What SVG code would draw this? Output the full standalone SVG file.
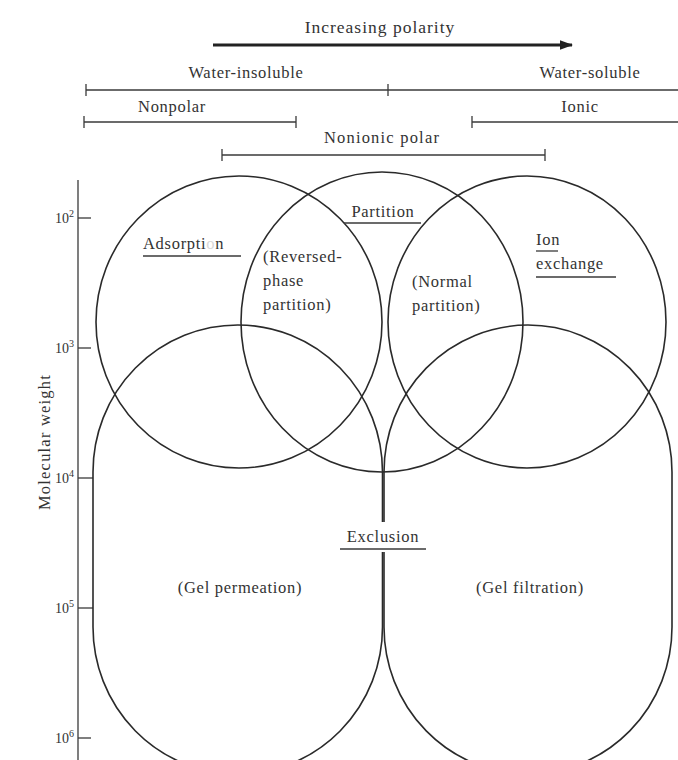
<svg xmlns="http://www.w3.org/2000/svg" width="678" height="760" viewBox="0 0 678 760">
<defs>
<marker id="ah" viewBox="0 0 10 10" refX="9" refY="5" markerWidth="4.5" markerHeight="4.5" markerUnits="strokeWidth" orient="auto">
<path d="M0,1.5 L10,5 L0,8.5 Z" fill="#222"/>
</marker>
<style>
text{font-family:"Liberation Serif","Times New Roman",serif;fill:#333;font-size:16.5px;letter-spacing:0.7px}
.ln{stroke:#3a3a3a;stroke-width:1.3;fill:none}
.sh{stroke:#2a2a2a;stroke-width:1.6;fill:none}
.ul{stroke:#3a3a3a;stroke-width:1.3}
.tk{font-size:14px;letter-spacing:0}
.sup{font-size:10px}
</style>
</defs>
<rect width="678" height="760" fill="#fff"/>

<g id="scale">
<text x="380" y="33" text-anchor="middle" style="font-size:17.5px;letter-spacing:1px">Increasing polarity</text>
<line x1="213" y1="45" x2="572" y2="45" stroke="#222" stroke-width="3" marker-end="url(#ah)"/>
<text x="246" y="78" text-anchor="middle">Water-insoluble</text>
<text x="590" y="78" text-anchor="middle">Water-soluble</text>
<line class="ln" x1="86" y1="90" x2="678" y2="90"/>
<line class="ln" x1="86" y1="84" x2="86" y2="96"/>
<line class="ln" x1="388" y1="84" x2="388" y2="96"/>
<text x="172" y="112" text-anchor="middle">Nonpolar</text>
<text x="580" y="112" text-anchor="middle">Ionic</text>
<line class="ln" x1="84" y1="122" x2="296" y2="122"/>
<line class="ln" x1="84" y1="116" x2="84" y2="128"/>
<line class="ln" x1="296" y1="116" x2="296" y2="128"/>
<line class="ln" x1="472" y1="122" x2="678" y2="122"/>
<line class="ln" x1="472" y1="116" x2="472" y2="128"/>
<text x="382" y="143" text-anchor="middle" style="letter-spacing:1.2px">Nonionic polar</text>
<line class="ln" x1="222" y1="155" x2="545" y2="155"/>
<line class="ln" x1="222" y1="149" x2="222" y2="161"/>
<line class="ln" x1="545" y1="149" x2="545" y2="161"/>
</g>

<g id="axis">
<line class="ln" x1="78" y1="180" x2="78" y2="760"/>
<line class="ln" x1="78" y1="218" x2="91" y2="218"/>
<line class="ln" x1="78" y1="348" x2="91" y2="348"/>
<line class="ln" x1="78" y1="478" x2="93" y2="478"/>
<line class="ln" x1="78" y1="608" x2="93" y2="608"/>
<line class="ln" x1="78" y1="738" x2="91" y2="738"/>
<text class="tk" x="55" y="223">10<tspan class="sup" dy="-6">2</tspan></text>
<text class="tk" x="55" y="353">10<tspan class="sup" dy="-6">3</tspan></text>
<text class="tk" x="55" y="483">10<tspan class="sup" dy="-6">4</tspan></text>
<text class="tk" x="55" y="613">10<tspan class="sup" dy="-6">5</tspan></text>
<text class="tk" x="55" y="743">10<tspan class="sup" dy="-6">6</tspan></text>
<text x="0" y="0" text-anchor="middle" transform="translate(50,442) rotate(-90)" style="letter-spacing:1.2px">Molecular weight</text>
</g>

<g id="adsorption">
<ellipse class="sh" cx="239" cy="322" rx="143" ry="146"/>
<text x="143" y="249">Adsorpti<tspan fill="#d8d8d8">o</tspan>n</text>
<line class="ul" x1="143" y1="256" x2="241" y2="256"/>
</g>

<g id="partition">
<ellipse class="sh" cx="382" cy="322" rx="141" ry="150"/>
<text x="383" y="217" text-anchor="middle">Partition</text>
<line class="ul" x1="344" y1="223" x2="421" y2="223"/>
</g>

<g id="reversed-phase">
<text x="263" y="262">(Reversed-</text>
<text x="263" y="286">phase</text>
<text x="263" y="310">partition)</text>
</g>

<g id="normal-partition">
<text x="412" y="287">(Normal</text>
<text x="412" y="311">partition)</text>
</g>

<g id="ion-exchange">
<ellipse class="sh" cx="527" cy="322" rx="139" ry="146"/>
<text x="536" y="245">Ion</text>
<line class="ul" x1="536" y1="251" x2="558" y2="251"/>
<text x="536" y="269">exchange</text>
<line class="ul" x1="536" y1="277" x2="616" y2="277"/>
</g>

<g id="gel-permeation">
<path class="sh" d="M93,472 A144.75,147 0 0 1 382.5,472 L382.5,627 A144.75,147 0 0 1 93,627 Z"/>
<text x="240" y="593" text-anchor="middle">(Gel permeation)</text>
</g>

<g id="gel-filtration">
<path class="sh" d="M384,472 A144,147 0 0 1 672,472 L672,627 A144,147 0 0 1 384,627 Z"/>
<text x="530" y="593" text-anchor="middle">(Gel filtration)</text>
</g>

<g id="exclusion">
<rect x="336" y="522" width="94" height="30" fill="#fff"/>
<text x="383" y="542" text-anchor="middle">Exclusion</text>
<line class="ul" x1="340" y1="549" x2="426" y2="549"/>
</g>
</svg>
